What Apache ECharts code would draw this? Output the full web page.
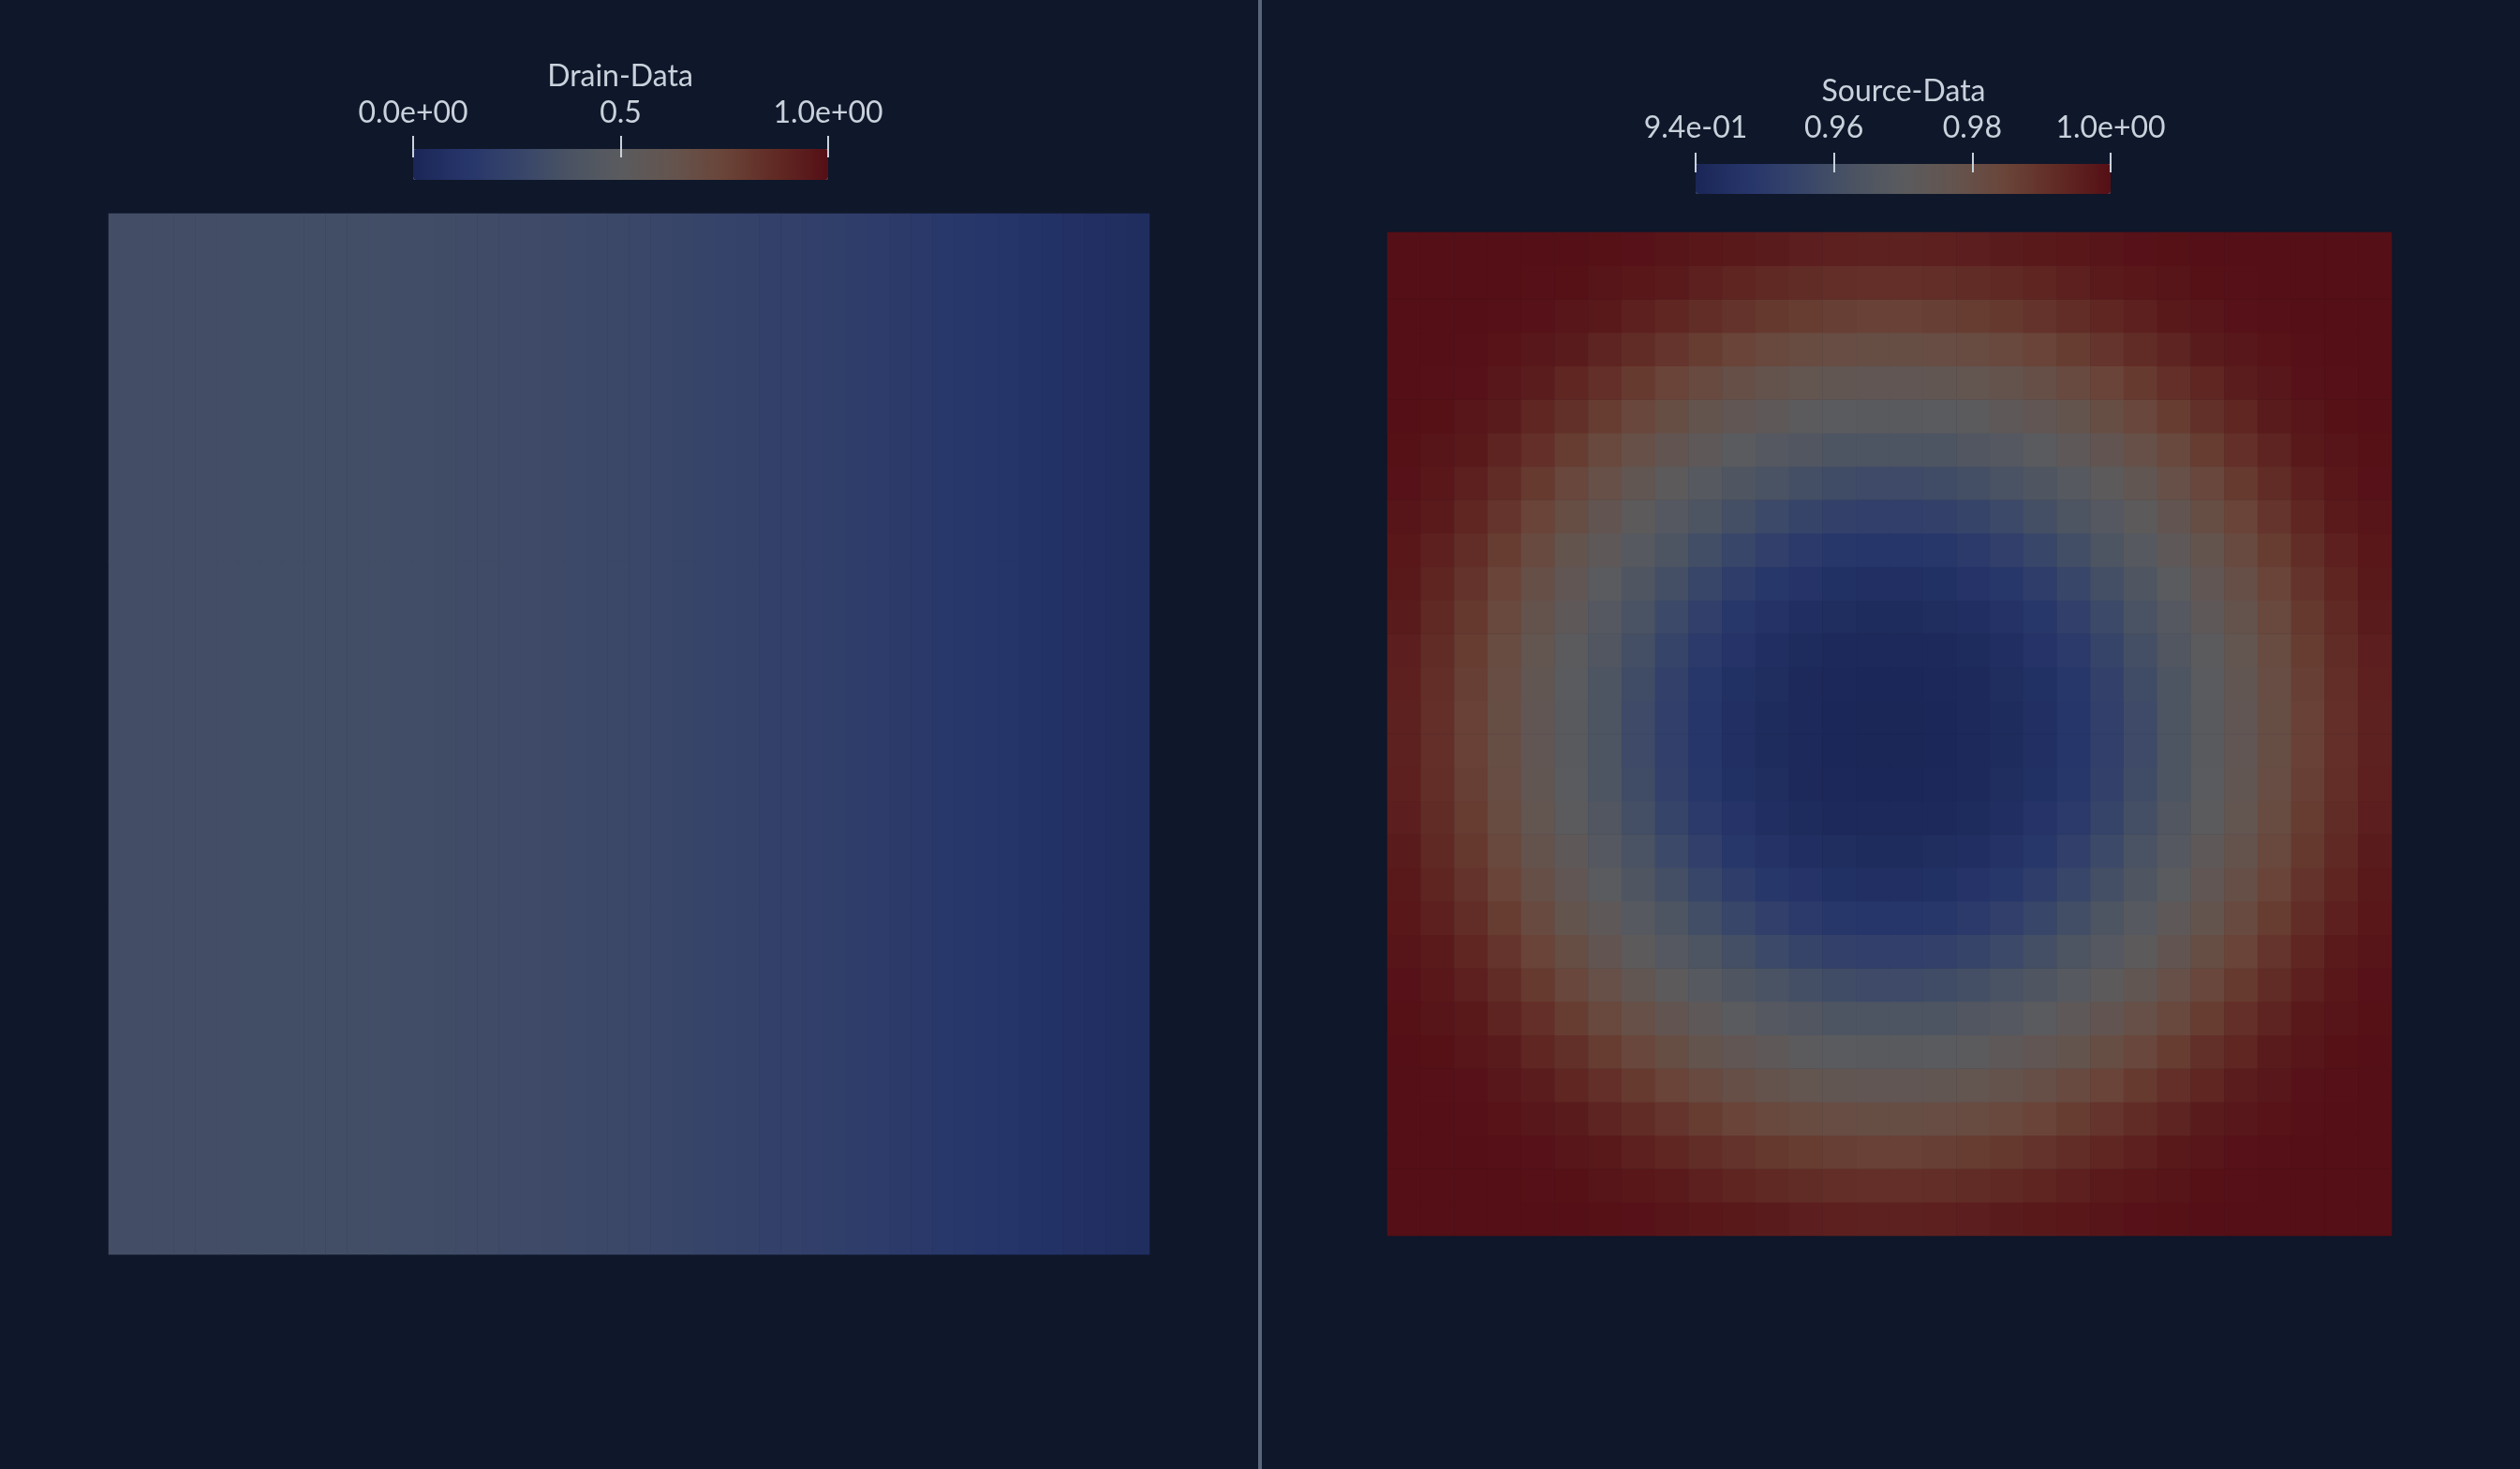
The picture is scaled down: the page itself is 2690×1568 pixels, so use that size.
<!DOCTYPE html>
<html>
<head>
<meta charset="utf-8">
<script src="https://cdn.jsdelivr.net/npm/echarts@6/dist/echarts.min.js"></script>
<style>
html,body{margin:0;padding:0;background:#0f172a;}
#chart{width:2690px;height:1568px;}
</style>
</head>
<body>
<div id="chart"></div>
<script>
// ---------- DATA ----------
const drainTitle = 'Drain-Data';
const sourceTitle = 'Source-Data';

const drainTicks = [0, 0.5, 1.0];
const drainTickLabels = ['0.0e+00', '0.5', '1.0e+00'];
const sourceTicks = [0.94, 0.96, 0.98, 1.0];
const sourceTickLabels = ['9.4e-01', '0.96', '0.98', '1.0e+00'];

// Drain-Data: rows (bottom to top) x 48 columns (left to right)
const drainGrid = [
  [.330,.330,.330,.330,.330,.329,.328,.327,.326,.325,.324,.323,.322,.321,.320,.315,.311,.307,.303,.299,.295,.290,.286,.282,.276,.268,.259,.251,.242,.234,.226,.218,.209,.201,.190,.180,.170,.159,.149,.138,.128,.117,.107,.097,.086,.076,.065,.055],
  [.330,.330,.330,.330,.330,.329,.328,.327,.326,.325,.324,.323,.322,.321,.320,.315,.311,.307,.303,.299,.295,.290,.286,.282,.276,.268,.259,.251,.242,.234,.226,.218,.209,.201,.190,.180,.170,.159,.149,.138,.128,.117,.107,.097,.086,.076,.065,.055],
  [.330,.330,.330,.330,.330,.329,.328,.327,.326,.325,.324,.323,.322,.321,.320,.315,.311,.307,.303,.299,.295,.290,.286,.282,.276,.268,.259,.251,.242,.234,.226,.218,.209,.201,.190,.180,.170,.159,.149,.138,.128,.117,.107,.097,.086,.076,.065,.055]
];

// Source-Data: 30 rows x 30 columns
const sourceGrid = [
  [1,1,1,1,1,.9997,.9995,.9991,.9984,.9978,.9973,.9967,.9959,.9953,.9950,.9950,.9953,.9959,.9967,.9973,.9978,.9984,.9991,.9995,.9997,1,1,1,1,1],
  [1,1,1,.9999,.9996,.9994,.9985,.9977,.9969,.9953,.9939,.9928,.9919,.9913,.9910,.9910,.9913,.9919,.9928,.9939,.9953,.9969,.9977,.9985,.9994,.9996,.9999,1,1,1],
  [1,1,.9999,.9996,.9991,.9981,.9972,.9953,.9934,.9916,.9899,.9883,.9871,.9863,.9859,.9859,.9863,.9871,.9883,.9899,.9916,.9934,.9953,.9972,.9981,.9991,.9996,.9999,1,1],
  [1,.9999,.9996,.9990,.9979,.9967,.9942,.9919,.9895,.9871,.9850,.9833,.9819,.9810,.9805,.9805,.9810,.9819,.9833,.9850,.9871,.9895,.9919,.9942,.9967,.9979,.9990,.9996,.9999,1],
  [1,.9996,.9991,.9979,.9964,.9936,.9910,.9879,.9850,.9824,.9800,.9780,.9764,.9754,.9749,.9749,.9754,.9764,.9780,.9800,.9824,.9850,.9879,.9910,.9936,.9964,.9979,.9991,.9996,1],
  [.9997,.9994,.9981,.9967,.9936,.9907,.9871,.9837,.9805,.9775,.9749,.9727,.9710,.9699,.9693,.9693,.9699,.9710,.9727,.9749,.9775,.9805,.9837,.9871,.9907,.9936,.9967,.9981,.9994,.9997],
  [.9995,.9985,.9972,.9942,.9910,.9871,.9833,.9795,.9759,.9727,.9699,.9675,.9656,.9643,.9637,.9637,.9643,.9656,.9675,.9699,.9727,.9759,.9795,.9833,.9871,.9910,.9942,.9972,.9985,.9995],
  [.9991,.9977,.9953,.9919,.9879,.9837,.9795,.9754,.9716,.9681,.9650,.9624,.9603,.9588,.9581,.9581,.9588,.9603,.9624,.9650,.9681,.9716,.9754,.9795,.9837,.9879,.9919,.9953,.9977,.9991],
  [.9984,.9969,.9934,.9895,.9850,.9805,.9759,.9716,.9675,.9637,.9603,.9573,.9550,.9534,.9525,.9525,.9534,.9550,.9573,.9603,.9637,.9675,.9716,.9759,.9805,.9850,.9895,.9934,.9969,.9984],
  [.9978,.9953,.9916,.9871,.9824,.9775,.9727,.9681,.9637,.9596,.9558,.9525,.9498,.9486,.9480,.9480,.9486,.9498,.9525,.9558,.9596,.9637,.9681,.9727,.9775,.9824,.9871,.9916,.9953,.9978],
  [.9973,.9939,.9899,.9850,.9800,.9749,.9699,.9650,.9603,.9558,.9516,.9486,.9467,.9453,.9446,.9446,.9453,.9467,.9486,.9516,.9558,.9603,.9650,.9699,.9749,.9800,.9850,.9899,.9939,.9973],
  [.9967,.9928,.9883,.9833,.9780,.9727,.9675,.9624,.9573,.9525,.9486,.9460,.9441,.9433,.9428,.9428,.9433,.9441,.9460,.9486,.9525,.9573,.9624,.9675,.9727,.9780,.9833,.9883,.9928,.9967],
  [.9959,.9919,.9871,.9819,.9764,.9710,.9656,.9603,.9550,.9498,.9467,.9441,.9428,.9417,.9414,.9414,.9417,.9428,.9441,.9467,.9498,.9550,.9603,.9656,.9710,.9764,.9819,.9871,.9919,.9959],
  [.9953,.9913,.9863,.9810,.9754,.9699,.9643,.9588,.9534,.9486,.9453,.9433,.9417,.9411,.9407,.9407,.9411,.9417,.9433,.9453,.9486,.9534,.9588,.9643,.9699,.9754,.9810,.9863,.9913,.9953],
  [.9950,.9910,.9859,.9805,.9749,.9693,.9637,.9581,.9525,.9480,.9446,.9428,.9414,.9407,.9403,.9403,.9407,.9414,.9428,.9446,.9480,.9525,.9581,.9637,.9693,.9749,.9805,.9859,.9910,.9950],
  [.9950,.9910,.9859,.9805,.9749,.9693,.9637,.9581,.9525,.9480,.9446,.9428,.9414,.9407,.9403,.9403,.9407,.9414,.9428,.9446,.9480,.9525,.9581,.9637,.9693,.9749,.9805,.9859,.9910,.9950],
  [.9953,.9913,.9863,.9810,.9754,.9699,.9643,.9588,.9534,.9486,.9453,.9433,.9417,.9411,.9407,.9407,.9411,.9417,.9433,.9453,.9486,.9534,.9588,.9643,.9699,.9754,.9810,.9863,.9913,.9953],
  [.9959,.9919,.9871,.9819,.9764,.9710,.9656,.9603,.9550,.9498,.9467,.9441,.9428,.9417,.9414,.9414,.9417,.9428,.9441,.9467,.9498,.9550,.9603,.9656,.9710,.9764,.9819,.9871,.9919,.9959],
  [.9967,.9928,.9883,.9833,.9780,.9727,.9675,.9624,.9573,.9525,.9486,.9460,.9441,.9433,.9428,.9428,.9433,.9441,.9460,.9486,.9525,.9573,.9624,.9675,.9727,.9780,.9833,.9883,.9928,.9967],
  [.9973,.9939,.9899,.9850,.9800,.9749,.9699,.9650,.9603,.9558,.9516,.9486,.9467,.9453,.9446,.9446,.9453,.9467,.9486,.9516,.9558,.9603,.9650,.9699,.9749,.9800,.9850,.9899,.9939,.9973],
  [.9978,.9953,.9916,.9871,.9824,.9775,.9727,.9681,.9637,.9596,.9558,.9525,.9498,.9486,.9480,.9480,.9486,.9498,.9525,.9558,.9596,.9637,.9681,.9727,.9775,.9824,.9871,.9916,.9953,.9978],
  [.9984,.9969,.9934,.9895,.9850,.9805,.9759,.9716,.9675,.9637,.9603,.9573,.9550,.9534,.9525,.9525,.9534,.9550,.9573,.9603,.9637,.9675,.9716,.9759,.9805,.9850,.9895,.9934,.9969,.9984],
  [.9991,.9977,.9953,.9919,.9879,.9837,.9795,.9754,.9716,.9681,.9650,.9624,.9603,.9588,.9581,.9581,.9588,.9603,.9624,.9650,.9681,.9716,.9754,.9795,.9837,.9879,.9919,.9953,.9977,.9991],
  [.9995,.9985,.9972,.9942,.9910,.9871,.9833,.9795,.9759,.9727,.9699,.9675,.9656,.9643,.9637,.9637,.9643,.9656,.9675,.9699,.9727,.9759,.9795,.9833,.9871,.9910,.9942,.9972,.9985,.9995],
  [.9997,.9994,.9981,.9967,.9936,.9907,.9871,.9837,.9805,.9775,.9749,.9727,.9710,.9699,.9693,.9693,.9699,.9710,.9727,.9749,.9775,.9805,.9837,.9871,.9907,.9936,.9967,.9981,.9994,.9997],
  [1,.9996,.9991,.9979,.9964,.9936,.9910,.9879,.9850,.9824,.9800,.9780,.9764,.9754,.9749,.9749,.9754,.9764,.9780,.9800,.9824,.9850,.9879,.9910,.9936,.9964,.9979,.9991,.9996,1],
  [1,.9999,.9996,.9990,.9979,.9967,.9942,.9919,.9895,.9871,.9850,.9833,.9819,.9810,.9805,.9805,.9810,.9819,.9833,.9850,.9871,.9895,.9919,.9942,.9967,.9979,.9990,.9996,.9999,1],
  [1,1,.9999,.9996,.9991,.9981,.9972,.9953,.9934,.9916,.9899,.9883,.9871,.9863,.9859,.9859,.9863,.9871,.9883,.9899,.9916,.9934,.9953,.9972,.9981,.9991,.9996,.9999,1,1],
  [1,1,1,.9999,.9996,.9994,.9985,.9977,.9969,.9953,.9939,.9928,.9919,.9913,.9910,.9910,.9913,.9919,.9928,.9939,.9953,.9969,.9977,.9985,.9994,.9996,.9999,1,1,1],
  [1,1,1,1,1,.9997,.9995,.9991,.9984,.9978,.9973,.9967,.9959,.9953,.9950,.9950,.9953,.9959,.9967,.9973,.9978,.9984,.9991,.9995,.9997,1,1,1,1,1]
];

// colormap (dimmed cool-to-warm), low -> high
const cmap = ['#1a2656','#26356a','#36446a','#4a5363','#5a5b5e','#64544e','#6a4438','#612a24','#550f16'];

// ---------- BUILD ----------
function toCells(grid) {
  const out = [];
  grid.forEach((row, r) => row.forEach((v, c) => out.push([c, r, v])));
  return out;
}
function idx(n) { return Array.from({length: n}, (_, i) => i); }
function tickFmt(ticks, labels) {
  return function (v) {
    for (let i = 0; i < ticks.length; i++) if (Math.abs(ticks[i] - v) < 1e-6) return labels[i];
    return '';
  };
}

const FONT = "Lato, 'Liberation Sans', sans-serif";
const TXT = '#c9d2dc';
const BG = '#0f172a';

const chart = echarts.init(document.getElementById('chart'), null, {renderer: 'canvas'});
const option = {
  backgroundColor: BG,
  animation: false,
  title: [
    {text: drainTitle, left: 662, top: 66, textAlign: 'center', padding: 0,
     textStyle: {color: TXT, fontSize: 32, fontWeight: 'normal', fontFamily: FONT}},
    {text: sourceTitle, left: 2032, top: 82, textAlign: 'center', padding: 0,
     textStyle: {color: TXT, fontSize: 32, fontWeight: 'normal', fontFamily: FONT}}
  ],
  grid: [
    {left: 116, top: 228, width: 1111, height: 1111, show: false},
    {left: 1481, top: 248, width: 1072, height: 1071, show: false},
    {left: 441, top: 167, width: 443, height: 1, show: false},
    {left: 1810, top: 183, width: 443, height: 1, show: false}
  ],
  xAxis: [
    {type: 'category', gridIndex: 0, data: idx(drainGrid[0].length), show: false},
    {type: 'category', gridIndex: 1, data: idx(sourceGrid[0].length), show: false},
    {type: 'value', gridIndex: 2, position: 'top', min: 0, max: 1, interval: 0.5, z: 10,
     axisLine: {show: false}, splitLine: {show: false},
     axisTick: {show: true, inside: false, length: 23, lineStyle: {color: TXT, width: 2}},
     axisLabel: {show: true, margin: 30, fontSize: 32, color: TXT, fontFamily: FONT,
                 showMinLabel: true, showMaxLabel: true, formatter: tickFmt(drainTicks, drainTickLabels)}},
    {type: 'value', gridIndex: 3, position: 'top', min: 0.94, max: 1.0, interval: 0.02, z: 10,
     axisLine: {show: false}, splitLine: {show: false},
     axisTick: {show: true, inside: false, length: 21, lineStyle: {color: TXT, width: 2}},
     axisLabel: {show: true, margin: 30, fontSize: 32, color: TXT, fontFamily: FONT,
                 showMinLabel: true, showMaxLabel: true, formatter: tickFmt(sourceTicks, sourceTickLabels)}}
  ],
  yAxis: [
    {type: 'category', gridIndex: 0, data: idx(drainGrid.length), show: false},
    {type: 'category', gridIndex: 1, data: idx(sourceGrid.length), show: false},
    {type: 'value', gridIndex: 2, show: false},
    {type: 'value', gridIndex: 3, show: false}
  ],
  visualMap: [
    {type: 'continuous', seriesIndex: 0, min: 0, max: 1, orient: 'horizontal',
     left: 441, top: 159, itemWidth: 33, itemHeight: 443, padding: 0,
     calculable: false, hoverLink: false, text: null, showLabel: false,
     inRange: {color: cmap}},
    {type: 'continuous', seriesIndex: 1, min: 0.94, max: 1.0, orient: 'horizontal',
     left: 1810, top: 175, itemWidth: 32, itemHeight: 443, padding: 0,
     calculable: false, hoverLink: false, text: null, showLabel: false,
     inRange: {color: cmap}}
  ],
  graphic: [
    {type: 'rect', shape: {x: 1343, y: 0, width: 4, height: 1568}, style: {fill: '#59657a'}, silent: true}
  ],
  series: [
    {type: 'heatmap', xAxisIndex: 0, yAxisIndex: 0, data: toCells(drainGrid), progressive: 0,
     emphasis: {disabled: true}},
    {type: 'heatmap', xAxisIndex: 1, yAxisIndex: 1, data: toCells(sourceGrid), progressive: 0,
     emphasis: {disabled: true}}
  ]
};
chart.setOption(option);
</script>
</body>
</html>
